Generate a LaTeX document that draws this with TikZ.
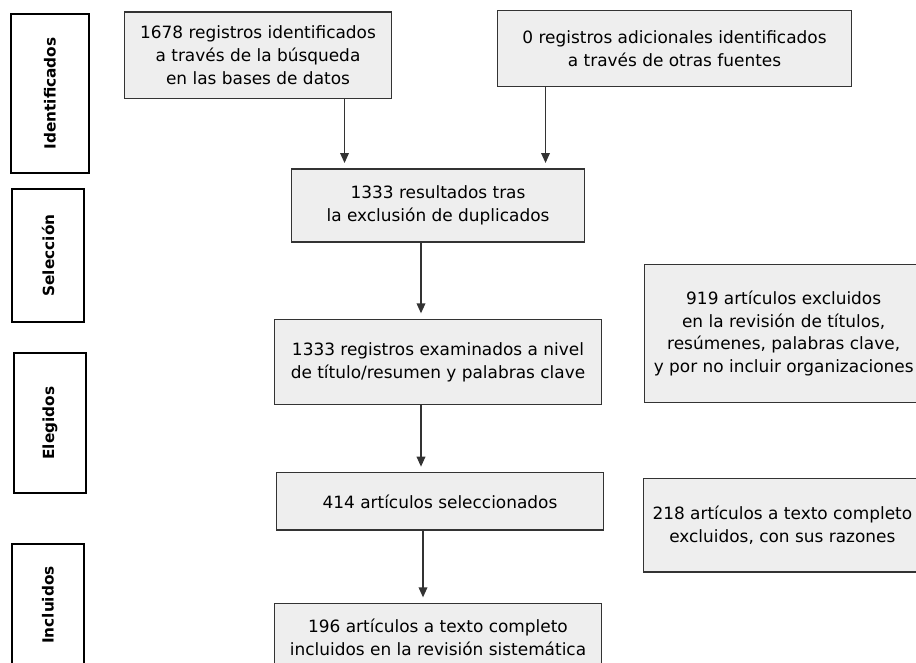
\documentclass[tikz,border=0pt]{standalone}
\usepackage{fontspec}
\setmainfont{DejaVu Sans}
\usepackage{xcolor}
\definecolor{boxgray}{RGB}{238,238,238}
\definecolor{edgegray}{RGB}{51,51,51}
\usepackage{tikz}
\usetikzlibrary{arrows.meta,positioning}
\tikzset{
  pr_box/.style={rectangle,
    draw=edgegray,fill=boxgray,line width=1pt,
    align=center,text=black,
    font=\fontsize{12.7}{17}\selectfont,
    inner sep=2pt},
  pr_phase/.style={rectangle,rotate=90,
    draw=black,line width=1pt,
    font=\fontsize{11.5}{14}\selectfont\bfseries,
    minimum height=54pt},
  arr/.style={-{Triangle[length=7.5pt,width=6.5pt]},line width=1pt,
    draw=edgegray,shorten >=4pt},
}

\begin{document}
\begin{tikzpicture}[x=0.75pt,y=-0.75pt]
  \useasboundingbox (0,0) rectangle (916,662);
  \clip (0,0) rectangle (916,662);

  % phase labels on the left
  \node (idf) [pr_phase, minimum width=119.25pt, minimum height=58.5pt]
    at (50,93.5) {Identificados};
  \node (sel) [pr_phase, minimum width=99.75pt] at (48,255.5) {Selección};
  \node (eleg) [pr_phase, minimum width=105pt] at (50,423) {Elegidos};
  \node (incl) [pr_phase, minimum width=91.5pt] at (48,605) {Incluidos};

  % main column
  \node (dup) [pr_box, minimum width=219.75pt, minimum height=54.75pt]
    at (438,205.5)
    {1333 resultados tras\\ la exclusión de duplicados};
  \node (bd) [pr_box, minimum width=200pt, minimum height=65pt,
              above=51.75pt of dup, xshift=-135pt]
    {1678 registros identificados\\ a través de la búsqueda\\
     en las bases de datos};
  \node (otras) [pr_box, minimum width=265.5pt, minimum height=57pt,
                 above=60.75pt of dup, xshift=177.4pt]
    {0 registros adicionales identificados\\ a través de otras fuentes};
  \node (exam) [pr_box, minimum width=245pt, minimum height=64pt,
                below=57pt of dup]
    {1333 registros examinados a nivel\\
     de título/resumen y palabras clave};
  \node (selec) [pr_box, minimum width=245pt, minimum height=43pt,
                 below=50pt of exam, xshift=1.5pt]
    {414 artículos seleccionados};
  \node (final) [pr_box, minimum width=245pt, minimum height=51pt,
                 below=54pt of selec, xshift=-1.5pt]
    {196 artículos a texto completo\\
     incluidos en la revisión sistemática};

  % exclusion boxes on the right
  \node (exc1) [pr_box, minimum width=208.5pt, minimum height=103.5pt,
                right=31.5pt of exam, yshift=21.4pt]
    {919 artículos excluidos\\ en la revisión de títulos,\\
     resúmenes, palabras clave,\\ y por no incluir organizaciones};
  \node (exc2) [pr_box, minimum width=208.5pt, minimum height=70pt,
                right=29pt of selec, yshift=-18pt]
    {218 artículos a texto completo\\ excluidos, con sus razones};

  \draw[arr] ([xshift=64.9pt]bd.south)
          -- ([xshift=64.9pt]bd.south |- dup.north);
  \draw[arr] ([xshift=-96.75pt]otras.south)
          -- ([xshift=-96.75pt]otras.south |- dup.north);
  \draw[arr] ([xshift=-12.75pt]dup.south)
          -- ([xshift=-12.75pt]dup.south |- exam.north);
  \draw[arr] ([xshift=-12.75pt]exam.south)
          -- ([xshift=-12.75pt]exam.south |- selec.north);
  \draw[arr] ([xshift=-12.75pt]selec.south)
          -- ([xshift=-12.75pt]selec.south |- final.north);
\end{tikzpicture}
\end{document}
